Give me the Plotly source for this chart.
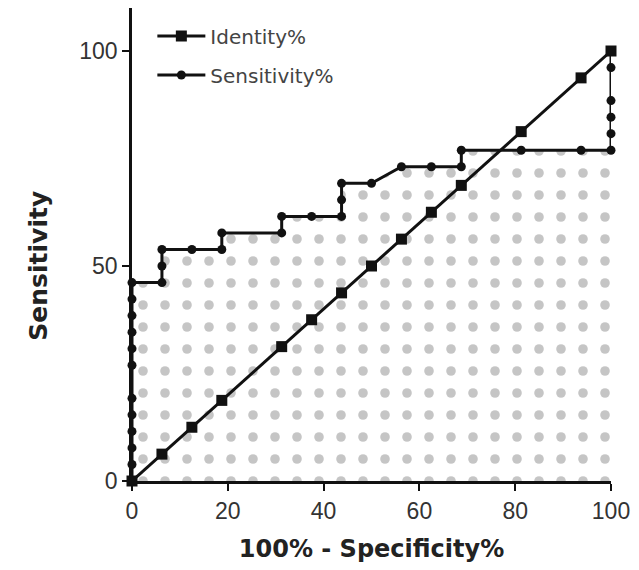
import plotly.graph_objects as go

# ROC curve: 100% - Specificity% (x) vs Sensitivity% (y)
roc_x = [0, 0, 0, 0, 0, 0, 0, 0, 0, 0, 0, 0,
         6.25, 6.25, 6.25, 12.5, 18.75, 18.75, 31.25, 31.25, 37.5, 43.75, 43.75, 43.75,
         50, 56.25, 62.5, 68.75, 68.75, 81.25, 93.75, 100, 100, 100, 100, 100, 100]
roc_y = [0, 3.85, 7.69, 11.54, 15.38, 19.23, 26.92, 30.77, 34.62, 38.46, 42.31, 46.15,
         46.15, 50.0, 53.85, 53.85, 53.85, 57.69, 57.69, 61.54, 61.54, 61.54, 65.38, 69.23,
         69.23, 73.08, 73.08, 73.08, 76.92, 76.92, 76.92, 76.92, 80.77, 84.62, 88.46, 96.15, 100]

# Identity line points
ident_x = [0, 6.25, 12.5, 18.75, 31.25, 37.5, 43.75, 50, 56.25, 62.5, 68.75, 81.25, 93.75, 100]
ident_y = [0, 6.25, 12.5, 18.75, 31.25, 37.5, 43.75, 50, 56.25, 62.5, 68.75, 81.25, 93.75, 100]

x_ticks = [0, 20, 40, 60, 80, 100]
y_ticks = [0, 50, 100]

INK = "#111111"
TXT = "#333333"

fig = go.Figure()

# patterned area under the ROC curve
fig.add_trace(go.Scatter(
    x=roc_x, y=roc_y, mode="none", fill="tozeroy",
    fillcolor="rgba(0,0,0,0)",
    fillpattern=dict(shape=".", size=22, solidity=0.15,
                     fgcolor="#8c8c8c", bgcolor="rgba(0,0,0,0)"),
    showlegend=False, hoverinfo="skip",
))

fig.add_trace(go.Scatter(
    x=ident_x, y=ident_y, mode="lines+markers", name="Identity%",
    line=dict(color=INK, width=3),
    marker=dict(symbol="square", size=11, color=INK),
    legendgroup="a", cliponaxis=False,
))

fig.add_trace(go.Scatter(
    x=roc_x, y=roc_y, mode="lines+markers", name="Sensitivity%",
    line=dict(color=INK, width=3),
    marker=dict(symbol="circle", size=9, color=INK),
    legendgroup="b", cliponaxis=False,
))

fig.update_layout(
    width=631, height=562,
    margin=dict(l=123.5, r=27.5, t=0, b=89),
    plot_bgcolor="white", paper_bgcolor="white",
    font=dict(family="Liberation Sans, Arial, sans-serif", color=TXT),
    legend=dict(x=0.0425, y=0.982, xanchor="left", yanchor="top",
                bgcolor="rgba(0,0,0,0)", tracegroupgap=10, itemwidth=48,
                font=dict(family="DejaVu Sans", size=20, color="#444444")),
    xaxis=dict(range=[0, 100], tickvals=x_ticks, showgrid=False, zeroline=False,
               showline=True, linecolor=INK, linewidth=2.8,
               ticks="outside", ticklen=7, tickwidth=2.4, tickcolor=INK,
               tickfont=dict(size=23, color=TXT),
               title=dict(text="<b>100% - Specificity%</b>", standoff=18,
                          font=dict(family="DejaVu Sans", size=24, color="#222222"))),
    yaxis=dict(range=[0, 110], tickvals=y_ticks, showgrid=False, zeroline=False,
               showline=True, linecolor=INK, linewidth=2.8,
               ticks="outside", ticklen=7, tickwidth=2.4, tickcolor=INK,
               tickfont=dict(size=23, color=TXT)),
    annotations=[dict(text="<b>Sensitivity</b>", textangle=-90,
                      xref="paper", yref="y", x=-0.197, y=50,
                      xanchor="center", yanchor="middle", showarrow=False,
                      font=dict(family="DejaVu Sans", size=25, color="#222222"))],
)

fig.write_html("out.html")
